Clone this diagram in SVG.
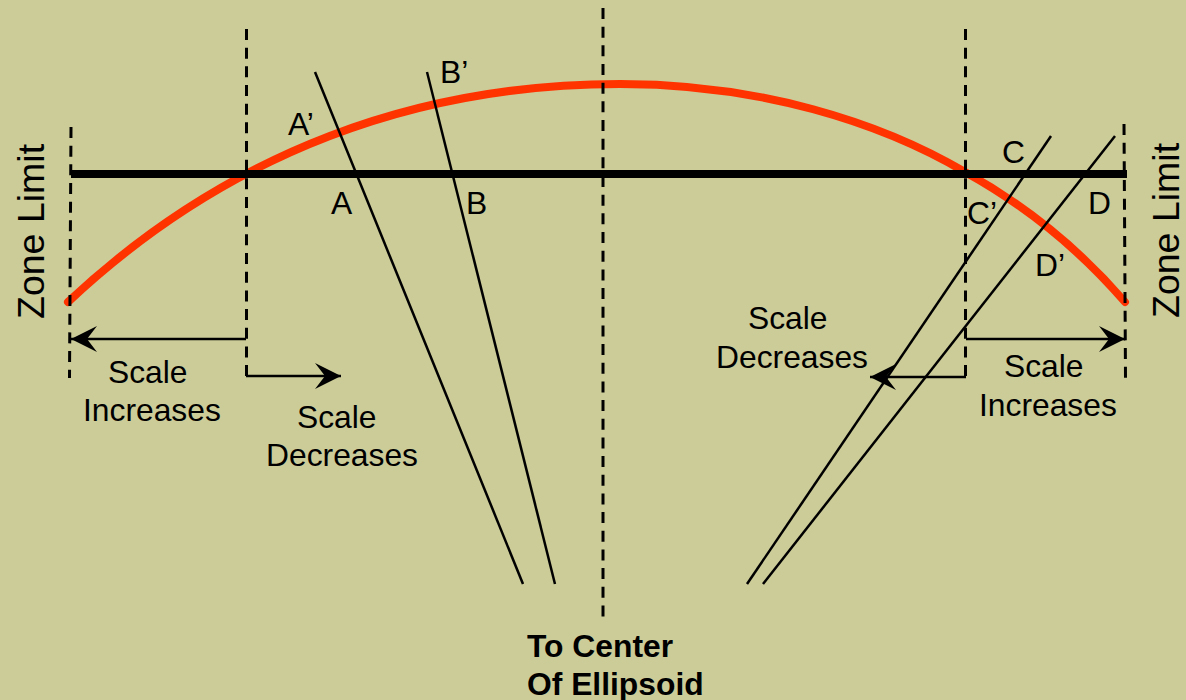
<svg xmlns="http://www.w3.org/2000/svg" width="1186" height="700" viewBox="0 0 1186 700">
<style>
.t{font-family:"Liberation Sans",Arial,sans-serif;font-size:31.800px;fill:#000}
.z{font-size:37.500px}
.b{font-weight:bold}
.d{stroke:#000;stroke-width:3;stroke-dasharray:11 7.670;fill:none}
.l{stroke:#000;stroke-width:2.500;fill:none}
.a{stroke:#000;stroke-width:2.500;fill:none;stroke-linejoin:round}
</style>
<defs><marker id="ah" markerUnits="userSpaceOnUse" markerWidth="28" markerHeight="28" refX="26" refY="13" orient="auto"><path d="M0 0L26 13L0 26L10 13Z" fill="#000"/></marker></defs>
<rect width="1186" height="700" fill="#cccc99"/>
<g id="connectors">
<path d="M68 302C230 150 420 84 620 84C760 84 880 122 965 172C1030 208 1080 250 1125 302" fill="none" stroke="#ff3300" stroke-width="8" stroke-linecap="round"/>
<path d="M71 174H1127" stroke="#000" stroke-width="8" fill="none"/>
<path class="d" d="M71 127L69.500 378"/><path class="d" d="M246.500 29V378"/><path class="d" d="M603 8V618"/><path class="d" d="M965.500 29V378"/><path class="d" d="M1124 124L1125.500 378"/>
<path class="l" d="M315 72L523 584"/><path class="l" d="M427 72L555 584"/><path class="l" d="M1051 136L747 584"/><path class="l" d="M1115 136L763 584"/>
<path class="a" d="M246 339H71" marker-end="url(#ah)"/><path class="a" d="M246 376H341" marker-end="url(#ah)"/><path class="a" d="M966 377H870" marker-end="url(#ah)"/><path class="a" d="M966 339H1125" marker-end="url(#ah)"/>
</g>
<g id="labels">
<text class="t" x="288" y="135">A’</text><text class="t" x="440" y="83">B’</text><text class="t" x="331" y="214">A</text><text class="t" x="466" y="214">B</text>
<text class="t" x="1002" y="163">C</text><text class="t" x="1088" y="214">D</text><text class="t" x="967" y="224">C’</text><text class="t" x="1035" y="276">D’</text>
<text class="t" x="108" y="383">Scale</text><text class="t" x="83" y="421">Increases</text>
<text class="t" x="297" y="428">Scale</text><text class="t" x="266" y="466">Decreases</text>
<text class="t" x="748" y="329">Scale</text><text class="t" x="716" y="368">Decreases</text>
<text class="t" x="1004" y="377">Scale</text><text class="t" x="979" y="416">Increases</text>
<text class="t z" transform="translate(44 319) rotate(-90)">Zone Limit</text>
<text class="t z" transform="translate(1179 318) rotate(-90)">Zone Limit</text>
<text class="t b" x="527" y="657">To Center</text><text class="t b" x="527" y="695">Of Ellipsoid</text>
</g>
</svg>
